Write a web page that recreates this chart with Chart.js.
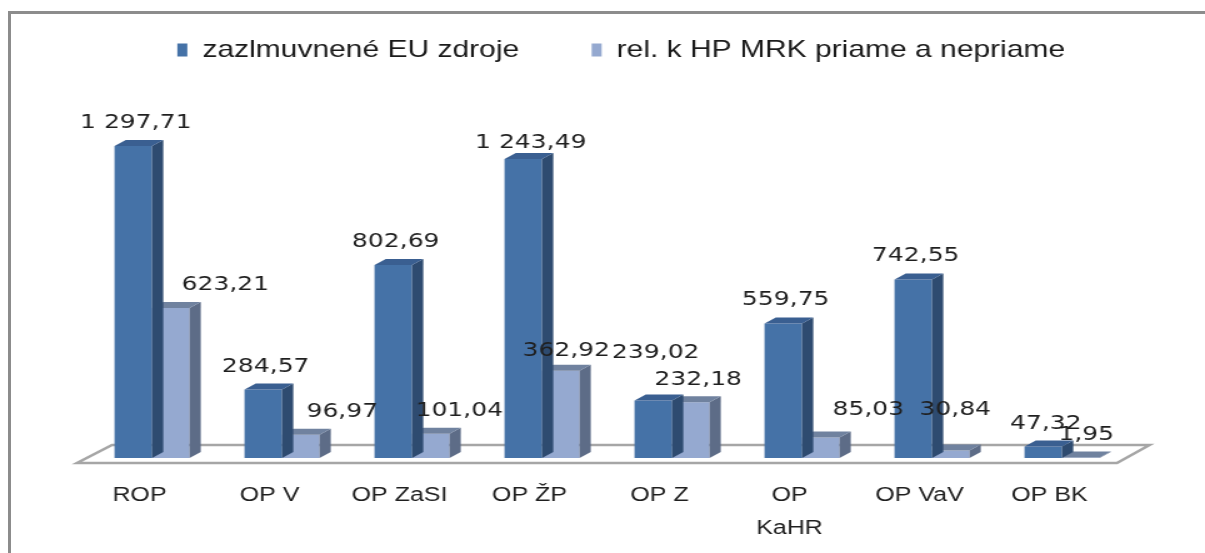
<!DOCTYPE html>
<html>
<head>
<meta charset="utf-8">
<script src="https://cdn.jsdelivr.net/npm/chart.js@4.4.0/dist/chart.umd.min.js"></script>
<style>
body { margin: 0; background: #fff; overflow: hidden; }
#frame { position: absolute; left: 8px; top: 11px; width: 1300px; height: 700px; border: 3px solid #8c8c8c; }
#chart { position: absolute; left: 0; top: 0; transform: scaleX(1.25); transform-origin: 0 0; }
</style>
</head>
<body>
<div id="frame"></div>
<canvas id="chart" width="964" height="553"></canvas>
<script>
var categories = ["ROP", "OP V", "OP ZaSI", "OP ŽP", "OP Z", ["OP", "KaHR"], "OP VaV", "OP BK"]
var euSources = [1297.71, 284.57, 802.69, 1243.49, 239.02, 559.75, 742.55, 47.32]
var mrkSources = [623.21, 96.97, 101.04, 362.92, 232.18, 85.03, 30.84, 1.95]
var seriesNames = ["zazlmuvnené EU zdroje", "rel. k HP MRK priame a nepriame"]

// 3d look: depth of bars and floor (canvas px, before the x stretch)
var stretch = 1.25
var depthX = 9
var depthY = -6

function fmt(v){
    var p = v.toFixed(2).split('.')
    return p[0].replace(/\B(?=(\d{3})+(?!\d))/g, ' ') + ',' + p[1]
}

var bar3d = {
    id: 'bar3d',
    beforeDatasetsDraw: function(chart){
        var ctx = chart.ctx
        var a = chart.chartArea
        ctx.save()
        ctx.beginPath()
        ctx.moveTo(a.left - 8, a.bottom + 5)
        ctx.lineTo(a.right - 8, a.bottom + 5)
        ctx.lineTo(a.right + 18, a.bottom - 13)
        ctx.lineTo(a.left + 20, a.bottom - 13)
        ctx.closePath()
        ctx.fillStyle = '#ffffff'
        ctx.fill()
        ctx.lineWidth = 2.5
        ctx.strokeStyle = '#a6a6a6'
        ctx.stroke()
        ctx.restore()
    },
    afterDatasetDraw: function(chart, args, opts){
        var ctx = chart.ctx
        var i = args.index
        var meta = args.meta
        ctx.save()
        meta.data.forEach(function(el){
            var p = el.getProps(['x', 'y', 'base', 'width'], true)
            var l = p.x - p.width / 2
            var r = p.x + p.width / 2
            // side
            ctx.beginPath()
            ctx.moveTo(r, p.y)
            ctx.lineTo(r + depthX, p.y + depthY)
            ctx.lineTo(r + depthX, p.base + depthY)
            ctx.lineTo(r, p.base)
            ctx.closePath()
            ctx.fillStyle = opts.side[i]
            ctx.fill()
            // top
            ctx.beginPath()
            ctx.moveTo(l, p.y)
            ctx.lineTo(l + depthX, p.y + depthY)
            ctx.lineTo(r + depthX, p.y + depthY)
            ctx.lineTo(r, p.y)
            ctx.closePath()
            ctx.fillStyle = opts.top[i]
            ctx.fill()
        })
        ctx.restore()
    },
    afterDatasetsDraw: function(chart, args, opts){
        var ctx = chart.ctx
        ctx.save()
        ctx.font = '20px "DejaVu Sans", Verdana, sans-serif'
        ctx.fillStyle = '#1f1f1f'
        ctx.textAlign = 'center'
        ctx.textBaseline = 'alphabetic'
        chart.data.datasets.forEach(function(ds, i){
            var meta = chart.getDatasetMeta(i)
            meta.data.forEach(function(el, j){
                var p = el.getProps(['x', 'y'], true)
                var dx = opts.nudgeX[i][j] / stretch
                var dy = opts.nudgeY[i][j]
                ctx.fillText(fmt(ds.data[j]), p.x + 2 + dx, p.y - 18 + dy)
            })
        })
        ctx.restore()
    }
}

var chart = new Chart(document.getElementById('chart'), {
    type: 'bar',
    data: {
        labels: categories,
        datasets: [{
            label: seriesNames[0],
            data: euSources,
            backgroundColor: '#4572a7',
            borderWidth: 0
        }, {
            label: seriesNames[1],
            data: mrkSources,
            backgroundColor: '#95a9d0',
            borderWidth: 0
        }]
    },
    options: {
        responsive: false,
        animation: false,
        devicePixelRatio: 1,
        categoryPercentage: 0.577,
        barPercentage: 1.0,
        layout: { padding: { left: 69.6, right: 39.6, top: -20, bottom: -13 } },
        scales: {
            x: {
                grid: { display: false, drawTicks: false },
                border: { display: false },
                ticks: {
                    padding: 21,
                    labelOffset: -10,
                    color: '#1f1f1f',
                    font: { family: '"Liberation Sans", Arial, sans-serif', size: 20, lineHeight: 1.65 }
                }
            },
            y: {
                position: 'right',
                min: 0,
                max: 1605,
                grid: { display: false, drawTicks: false },
                border: { display: false },
                ticks: { display: false },
                afterFit: function(scale){ scale.width = 22.8 }
            }
        },
        plugins: {
            legend: {
                position: 'top',
                labels: {
                    boxWidth: 8,
                    boxHeight: 13,
                    padding: 58,
                    color: '#1a1a1a',
                    font: { family: '"Liberation Sans", Arial, sans-serif', size: 24 }
                }
            },
            tooltip: { enabled: false },
            bar3d: {
                side: ['#2e4b70', '#5d6c87'],
                top: ['#3a5f91', '#70829f'],
                nudgeX: [[0, 0, 0, 5, 0, 0, 0, 0], [52, 39, 26, 3, 5, 45, 2, 3]],
                nudgeY: [[0, 0, 0, 7, -25, 0, 0, 0], [0, 0, 0, 3, 1, -5, -18, 0]]
            }
        }
    },
    plugins: [bar3d]
})
</script>
</body>
</html>
